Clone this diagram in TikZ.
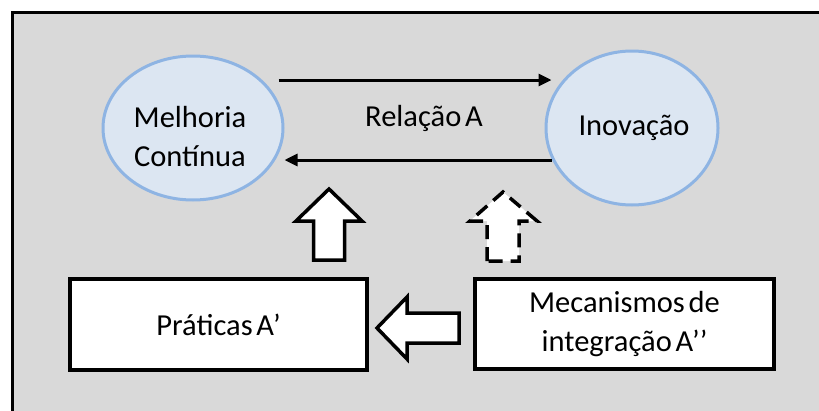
\documentclass[tikz,border=0pt]{standalone}
\usepackage{fontspec}
\setmainfont{Carlito}[WordSpace=0.55]
\usetikzlibrary{arrows.meta,shapes.geometric}
\begin{document}
\begin{tikzpicture}[x=1pt,y=-1pt,
  txt/.style={font=\fontsize{30.5}{39}\selectfont, text=black},
  bubble/.style={ellipse, draw=blueedge, fill=bluefill, line width=3pt, inner sep=0pt},
  boxnode/.style={draw=black, fill=white, line width=4pt, inner sep=0pt, align=center, txt},
  link/.style={line width=3pt, -{Triangle[length=13pt,width=12pt]}},
  blockarrow/.style={draw=black, fill=white, line width=3.5pt, line join=miter}]
\definecolor{panel}{HTML}{D9D9D9}
\definecolor{bluefill}{HTML}{DCE6F2}
\definecolor{blueedge}{HTML}{8EB4E3}
\useasboundingbox (0,0) rectangle (819,410);
% panel behind everything
\draw[fill=panel, line width=3pt] (12,12) rectangle (840,430);
% the two concepts
\node[bubble, minimum width=180pt, minimum height=144pt] (mc) at (193,128) {};
\node[txt, align=center] at (190,137) {Melhoria\\Contínua};
\node[bubble, minimum width=172pt, minimum height=154pt] (inov) at (632,128) {};
\node[txt] at (634,128) {Inovação};
% relation A between them
\draw[link] ([shift={(-6,-48)}]mc.east) -- ([shift={(7,-48)}]inov.west);
\draw[link] ([shift={(7,32)}]inov.west) -- ([shift={(0,32)}]mc.east);
\node[txt] (rel) at (424,118) {Relação A};
% practices and mechanisms
\node[boxnode, minimum width=297pt, minimum height=91pt] (prat) at (218.5,324.5) {};
\node[txt] at (prat.center) {Práticas A’};
\node[boxnode, minimum width=299pt, minimum height=90pt] (mec) at (624.5,324) {};
\node[txt, align=center] at (mec.center) {Mecanismos de\\integração A’’};
% block arrows
\draw[blockarrow] (313.5,260) -- (313.5,221) -- (296,221) -- (329,189) -- (362,221) -- (344.5,221) -- (344.5,260) -- cycle;
\draw[blockarrow, dash pattern=on 14pt off 8pt] (487,261) -- (487,221) -- (470,221) -- (503,192) -- (537,221) -- (519,221) -- (519,261) -- cycle;
\draw[blockarrow] (459,313) -- (407,313) -- (407,297) -- (377,328) -- (407,359) -- (407,343) -- (459,343) -- cycle;
\end{tikzpicture}
\end{document}
